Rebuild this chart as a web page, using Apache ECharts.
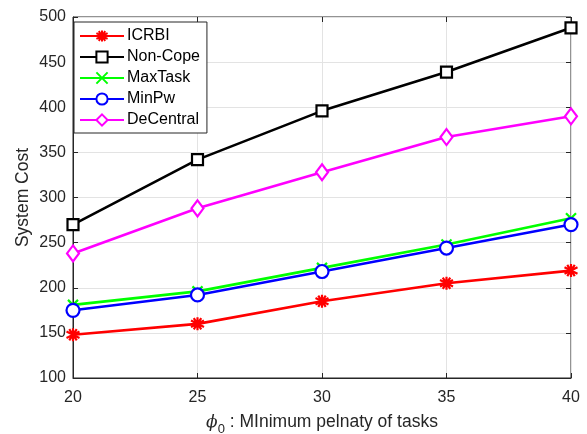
<!DOCTYPE html>
<html>
<head>
<meta charset="utf-8">
<script src="https://cdn.jsdelivr.net/npm/echarts@6/dist/echarts.min.js"></script>
<style>
  html, body { margin: 0; padding: 0; background: #fff; }
  #chart { width: 587px; height: 434px; }
</style>
</head>
<body>
<div id="chart"></div>
<script>
// x values (phi_0)
const phi = [20, 25, 30, 35, 40];
const icrbi = [148, 160, 185, 205, 219];
const nonCope = [270, 342, 396, 439, 488];
const maxTask = [181, 196, 222, 248, 277];
const minPw = [175, 192, 218, 244, 270];
const deCentral = [238, 288, 328, 367, 390];

const AXIS_COLOR = "#262626";
const FONT = "Liberation Sans, Arial, sans-serif";

const chart = echarts.init(document.getElementById("chart"));

function pairs(ys) {
  return ys.map((y, i) => [phi[i], y]);
}

function makeSeries(name, ys, color, symbol, size, fill) {
  return {
    name: name,
    type: "line",
    data: pairs(ys),
    symbol: symbol,
    symbolSize: size,
    showSymbol: true,
    lineStyle: { color: color, width: 2.6 },
    itemStyle: {
      color: fill,
      borderColor: color,
      borderWidth: 2.2
    },
    emphasis: { disabled: true },
    z: 3
  };
}

const asterisk = "path://M0,-10L0,10M-8.66,-5L8.66,5M-8.66,5L8.66,-5M-5,-8.66L5,8.66M-5,8.66L5,-8.66";
const cross = "path://M-10,-10L10,10M-10,10L10,-10";

const option = {
  animation: false,
  grid: {
    left: 73,
    right: 16,
    top: 17,
    bottom: 56,
    outerBoundsMode: "none",
    containLabel: false,
    show: true,
    borderColor: AXIS_COLOR,
    borderWidth: 1,
    backgroundColor: "#fff"
  },
  legend: {
    orient: "vertical",
    left: 74,
    top: 22,
    padding: [6, 7, 5, 5],
    itemWidth: 44,
    itemHeight: 14,
    itemGap: 5,
    backgroundColor: "#fff",
    borderColor: AXIS_COLOR,
    borderWidth: 1,
    textStyle: { fontFamily: FONT, fontSize: 16, color: "#000", padding: [0, 0, 0, -2] },
    data: ["ICRBI", "Non-Cope", "MaxTask", "MinPw", "DeCentral"]
  },
  xAxis: [
    {
      type: "value",
      min: 20,
      max: 40,
      interval: 5,
      name: "{phi|\u03d5}{sub|0}{t| : MInimum pelnaty of tasks}",
      nameLocation: "middle",
      nameGap: 31,
      nameTextStyle: {
        rich: {
          phi: { fontFamily: "DejaVu Serif", fontStyle: "italic", fontSize: 17, color: AXIS_COLOR },
          sub: { fontFamily: FONT, fontSize: 13, color: AXIS_COLOR, padding: [14, 0, 0, 0] },
          t: { fontFamily: FONT, fontSize: 17.5, color: AXIS_COLOR }
        }
      },
      axisLine: { show: true, lineStyle: { color: AXIS_COLOR, width: 1 } },
      axisTick: { show: true, inside: true, length: 5, lineStyle: { color: AXIS_COLOR } },
      axisLabel: { fontFamily: FONT, fontSize: 16, color: AXIS_COLOR, margin: 12 },
      splitLine: { show: true, lineStyle: { color: "#e3e3e3", width: 1 } }
    },
    {
      type: "value",
      position: "top",
      min: 20,
      max: 40,
      interval: 5,
      axisLine: { show: false },
      axisTick: { show: true, inside: true, length: 5, lineStyle: { color: AXIS_COLOR } },
      axisLabel: { show: false },
      splitLine: { show: false }
    }
  ],
  yAxis: [
    {
      type: "value",
      min: 100,
      max: 500,
      interval: 50,
      name: "System Cost",
      nameLocation: "middle",
      nameGap: 41,
      nameMoveOverlap: false,
      nameTextStyle: { fontFamily: FONT, fontSize: 17.5, color: AXIS_COLOR },
      axisLine: { show: true, lineStyle: { color: AXIS_COLOR, width: 1 } },
      axisTick: { show: true, inside: true, length: 5, lineStyle: { color: AXIS_COLOR } },
      axisLabel: { fontFamily: FONT, fontSize: 16, color: AXIS_COLOR, margin: 7 },
      splitLine: { show: true, lineStyle: { color: "#e3e3e3", width: 1 } }
    },
    {
      type: "value",
      position: "right",
      min: 100,
      max: 500,
      interval: 50,
      axisLine: { show: false },
      axisTick: { show: true, inside: true, length: 5, lineStyle: { color: AXIS_COLOR } },
      axisLabel: { show: false },
      splitLine: { show: false }
    }
  ],
  series: [
    makeSeries("ICRBI", icrbi, "#ff0000", asterisk, 13, "#ff0000"),
    makeSeries("Non-Cope", nonCope, "#000000", "rect", 11, "#ffffff"),
    makeSeries("MaxTask", maxTask, "#00ff00", cross, 10, "#00ff00"),
    makeSeries("MinPw", minPw, "#0000ff", "circle", 13, "#ffffff"),
    makeSeries("DeCentral", deCentral, "#ff00ff", "diamond", [12, 16], "#ffffff")
  ]
};

chart.setOption(option);
</script>
</body>
</html>
